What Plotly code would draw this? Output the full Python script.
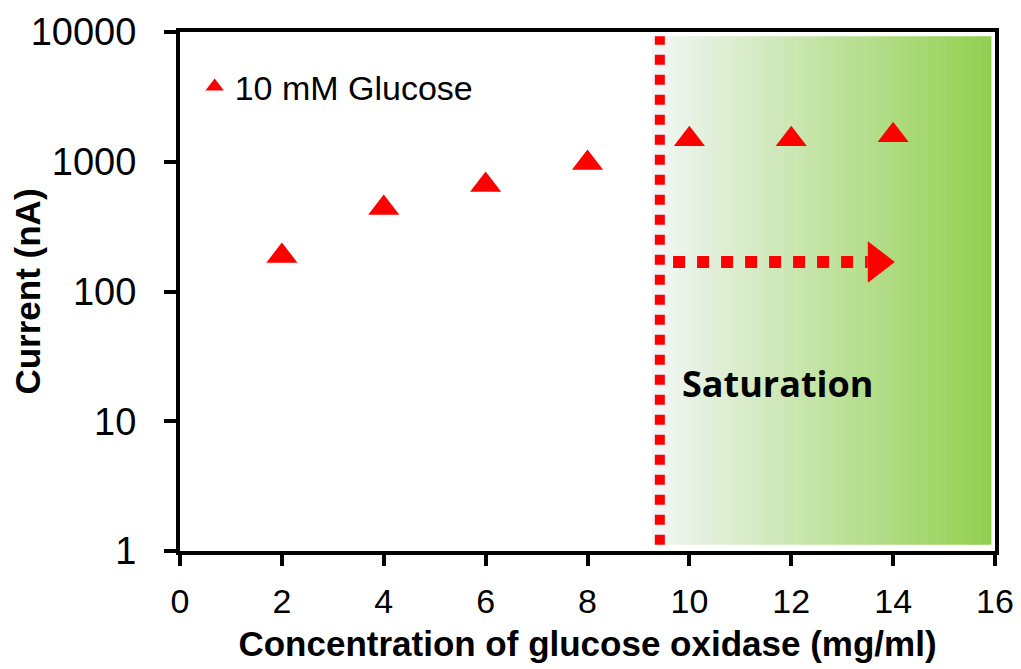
import math
import plotly.graph_objects as go

# ---- data ----
enzyme_conc = [2, 4, 6, 8, 10, 12, 14]
current_nA = [188, 440, 662, 978, 1490, 1490, 1600]
series_name = "10 mM Glucose"

x_ticks = [0, 2, 4, 6, 8, 10, 12, 14, 16]
y_ticks = [1, 10, 100, 1000, 10000]
y_ticklabels = ["1", "10", "100", "1000", "10000"]

saturation_start = 9.42       # dotted boundary line
gradient_x = [9.27, 15.92]    # shaded saturation region
arrow_x = [9.68, 13.5]        # dotted arrow shaft
arrow_head_x = 13.68
arrow_y = 169
label_text = "Saturation"
label_x = 9.82
label_y = 19.4

RED = "#ff0000"
FONT = "Liberation Sans, Arial, sans-serif"

fig = go.Figure()

# gradient region built from thin strips
n_strips = 80
c0 = (242, 246, 246)
c1 = (146, 208, 80)
x0, x1 = gradient_x
for i in range(n_strips):
    t = i / (n_strips - 1)
    col = tuple(round(c0[k] + (c1[k] - c0[k]) * t) for k in range(3))
    xa = x0 + (x1 - x0) * i / n_strips
    xb = x0 + (x1 - x0) * (i + 1) / n_strips
    fig.add_shape(type="rect", xref="x", yref="paper", x0=xa, x1=xb + 0.01,
                  y0=0.012, y1=0.992, fillcolor="rgb(%d,%d,%d)" % col,
                  line=dict(width=0), layer="below")

# vertical dotted boundary
fig.add_shape(type="line", xref="x", yref="paper", x0=saturation_start, x1=saturation_start,
              y0=0.012, y1=0.992, line=dict(color=RED, width=10, dash="dot"))

# dotted arrow shaft
fig.add_trace(go.Scatter(x=arrow_x, y=[arrow_y, arrow_y], mode="lines",
                         line=dict(color=RED, width=12, dash="dot"),
                         showlegend=False, hoverinfo="skip"))
fig.add_trace(go.Scatter(x=[arrow_head_x], y=[arrow_y], mode="markers",
                         marker=dict(symbol="triangle-right", size=36, color=RED),
                         showlegend=False, hoverinfo="skip"))

# data
fig.add_trace(go.Scatter(x=enzyme_conc, y=current_nA, mode="markers", name=series_name,
                         marker=dict(symbol="triangle-up", size=27, color=RED)))

fig.add_annotation(x=label_x, y=math.log10(label_y), yref="y", xref="x",
                   text="<b>%s</b>" % label_text,
                   showarrow=False, xanchor="left", yanchor="middle",
                   font=dict(family="Open Sans, sans-serif", size=36, color="black"))

axis_common = dict(showline=True, linecolor="black", linewidth=4, mirror=True,
                   ticks="outside", tickcolor="black", tickwidth=4, showgrid=False,
                   zeroline=False, automargin=False)

fig.update_xaxes(range=[0, 16], tickvals=x_ticks, ticklen=11,
                 tickfont=dict(family=FONT, size=34, color="black"),
                 ticklabelstandoff=6,
                 title=dict(text="<b>Concentration of glucose oxidase (mg/ml)</b>",
                            font=dict(family=FONT, size=35, color="black"), standoff=14),
                 **axis_common)
fig.update_yaxes(type="log", range=[0, 4], tickvals=y_ticks, ticktext=y_ticklabels, ticklen=12,
                 tickfont=dict(family=FONT, size=38, color="black"),
                 ticklabelstandoff=20,
                 title=dict(text="<b>Current (nA)</b>",
                            font=dict(family=FONT, size=35, color="black"), standoff=10),
                 **axis_common)

fig.update_layout(
    width=1013, height=661,
    margin=dict(l=172, r=26, t=24, b=118),
    paper_bgcolor="white", plot_bgcolor="white",
    showlegend=True,
    legend=dict(x=0.018, y=0.894, xanchor="left", yanchor="middle",
                bgcolor="rgba(0,0,0,0)", font=dict(family=FONT, size=34, color="black"),
                itemwidth=30),
)

fig.write_html("out.html")
